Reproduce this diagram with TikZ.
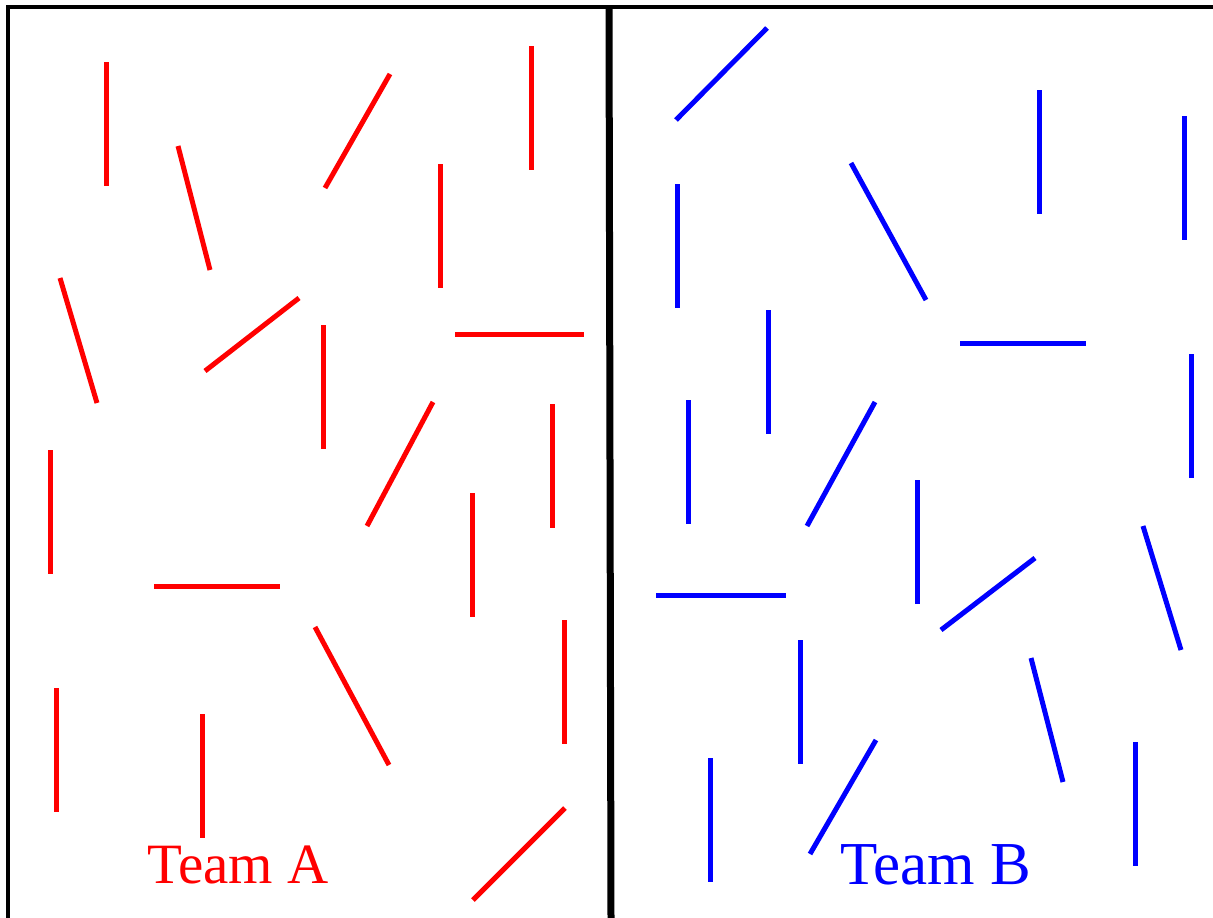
\documentclass[tikz,border=0pt]{standalone}
\usepackage{fontspec}
\setmainfont{Liberation Serif}
\begin{document}
\begin{tikzpicture}[x=1pt,y=-1pt,
  redstick/.style={draw=red,line width=5pt},
  bluestick/.style={draw=blue,line width=5pt},
  frameline/.style={draw=black,line width=4pt},
  teamlabel/.style={inner sep=0pt,anchor=base,font=\fontsize{57}{60}\selectfont}]
\useasboundingbox (0,0) rectangle (1213,918);
% frame
\draw[frameline] (8,918) -- (8,7) -- (1213,7);
\draw[draw=black,line width=7pt] (609,7) -- (611,918);
% red sticks
\foreach \a/\b/\c/\d in {106/62/106/186, 178/146/210/270, 390/74/325/188, 531/46/531/170,
  440/164/440/288, 60/278/97/403, 205/371/299/298, 323/325/323/449, 455/334/584/334,
  433/402/367/526, 552/404/552/528, 50/450/50/574, 154/586/280/586, 472/493/472/617,
  315/627/389/765, 564/620/564/744, 56/688/56/812, 202/714/202/838, 565/808/473/900}
  \draw[redstick] (\a,\b) -- (\c,\d);
% blue sticks
\foreach \a/\b/\c/\d in {767/28/676/120, 1039/90/1039/214, 1184/116/1184/240, 677/184/677/308,
  851/163/926/300, 768/310/768/434, 960/343/1086/343, 1191/354/1191/478, 688/400/688/524,
  875/402/807/526, 917/480/917/604, 656/595/786/595, 1035/558/941/630, 1143/526/1181/650,
  800/640/800/764, 1031/658/1063/782, 876/740/810/854, 710/758/710/882, 1135/742/1135/866}
  \draw[bluestick] (\a,\b) -- (\c,\d);
% labels
\node[teamlabel,text=red] (teamA) at (238,883) {Team A};
\node[teamlabel,text=blue,font=\fontsize{61}{64}\selectfont] (teamB) at (936,884) {Team B};
\end{tikzpicture}
\end{document}
